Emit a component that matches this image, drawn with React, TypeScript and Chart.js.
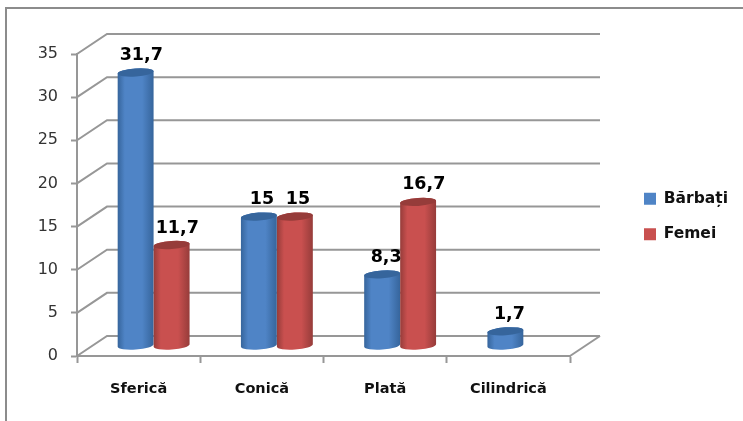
import { useEffect, useRef } from "react";
import { Chart, BarController, BarElement, registerables } from "chart.js";

Chart.register(...registerables);

const categories = ["Sferică", "Conică", "Plată", "Cilindrică"];
const barbati = [31.7, 15, 8.3, 1.7];
const femei = [11.7, 15, 16.7, null];
const seriesNames = ["Bărbați", "Femei"];
const yMax = 35;
const yStep = 5;

// Depth of the pseudo-3D floor: how far the back wall sits from the front axes.
const DEPTH_X = 30;
const DEPTH_Y = 20;
const ELLIPSE_RY = 4;
const ELLIPSE_TILT = -0.07;
const LINE = "#979797";
const FONT = "'DejaVu Sans'";

class CylinderBar extends BarElement {
  static id = "cylinderBar";
  draw(ctx: CanvasRenderingContext2D) {
    const { x, y, base, width } = (this as any).getProps(["x", "y", "base", "width"]);
    if (!Number.isFinite(y)) return;
    const opts = (this as any).options;
    // Columns stand halfway back on the floor.
    const cx = x + DEPTH_X / 2;
    const top = y - DEPTH_Y / 2;
    const bottom = base - DEPTH_Y / 2;
    const rx = width / 2;
    const grad = ctx.createLinearGradient(cx - rx, 0, cx + rx, 0);
    grad.addColorStop(0, opts.borderColor);
    grad.addColorStop(0.2, opts.backgroundColor);
    grad.addColorStop(0.68, opts.backgroundColor);
    grad.addColorStop(1, opts.borderColor);
    ctx.save();
    ctx.fillStyle = grad;
    ctx.beginPath();
    ctx.ellipse(cx, top, rx, ELLIPSE_RY, ELLIPSE_TILT, Math.PI, 0, false);
    ctx.ellipse(cx, bottom, rx, ELLIPSE_RY, ELLIPSE_TILT, 0, Math.PI, false);
    ctx.closePath();
    ctx.fill();
    ctx.fillStyle = opts.borderColor;
    ctx.beginPath();
    ctx.ellipse(cx, top, rx, ELLIPSE_RY, ELLIPSE_TILT, 0, Math.PI * 2);
    ctx.fill();
    ctx.restore();
  }
}

class CylinderController extends BarController {
  static id = "cylinder";
  static defaults = { ...(BarController as any).defaults, dataElementType: "cylinderBar" };
  static overrides = (BarController as any).overrides;
}

Chart.register(CylinderBar as any, CylinderController as any);

const scene = {
  id: "scene",
  beforeLayout(chart: any) {
    // The legend column has a fixed width so the plot keeps its right edge.
    const legend = chart.legend;
    if (legend && !legend.__fixed) {
      const fit = legend.fit.bind(legend);
      legend.fit = () => {
        fit();
        legend.width = 173;
      };
      legend.__fixed = true;
    }
  },
  afterLayout(chart: any) {
    const legend = chart.legend;
    const pad = legend.options.labels.padding;
    legend.left = 644 - pad;
    legend.right = 743;
    legend.top = 191 - pad;
    legend.adjustHitBoxes();
  },
  beforeDraw(chart: any) {
    const { ctx } = chart;
    ctx.save();
    ctx.strokeStyle = "#8c8c8c";
    ctx.lineWidth = 2;
    ctx.beginPath();
    ctx.moveTo(6, 421);
    ctx.lineTo(6, 8);
    ctx.lineTo(743, 8);
    ctx.stroke();
    ctx.restore();
  },
  beforeDatasetsDraw(chart: any) {
    const { ctx, chartArea, scales } = chart;
    const { left, right } = chartArea;
    // Back wall and side wall gridlines, one for each y tick.
    ctx.save();
    ctx.strokeStyle = LINE;
    ctx.lineWidth = 2;
    scales.y.ticks.forEach((t: any) => {
      const py = scales.y.getPixelForValue(t.value);
      ctx.beginPath();
      ctx.moveTo(left, py);
      ctx.lineTo(left + DEPTH_X, py - DEPTH_Y);
      ctx.lineTo(right + DEPTH_X, py - DEPTH_Y);
      ctx.stroke();
    });
    const floor = scales.y.getPixelForValue(0);
    ctx.beginPath();
    ctx.moveTo(right, floor);
    ctx.lineTo(right + DEPTH_X, floor - DEPTH_Y);
    ctx.stroke();
    ctx.restore();

    // First series first, so the second one overlaps it.
    const metas = chart.getSortedVisibleDatasetMetas();
    metas.forEach((m: any) => m.controller.draw());

    ctx.save();
    ctx.fillStyle = "#000";
    ctx.font = `bold 17.5px ${FONT}`;
    ctx.textAlign = "center";
    ctx.textBaseline = "middle";
    metas.forEach((m: any) => {
      m.data.forEach((el: any, i: number) => {
        const v = chart.data.datasets[m.index].data[i];
        if (v === null) return;
        const text = String(v).replace(".", ",");
        const w = ctx.measureText(text).width;
        ctx.fillText(text, el.x + DEPTH_X / 2 + w * 0.13, el.y - DEPTH_Y / 2 - 17);
      });
    });
    ctx.restore();
    return false;
  },
};

export default function App() {
  const ref = useRef<HTMLCanvasElement>(null);
  useEffect(() => {
    const chart = new Chart(ref.current!, {
      type: "cylinder" as any,
      data: {
        labels: categories,
        datasets: [
          { label: seriesNames[0], data: barbati, backgroundColor: "#4f84c6", borderColor: "#36659c", borderWidth: 0 },
          { label: seriesNames[1], data: femei, backgroundColor: "#c9504f", borderColor: "#963c3a", borderWidth: 0 },
        ],
      },
      options: {
        animation: false,
        responsive: false,
        layout: { padding: { top: 54, left: 0, right: 0, bottom: 0 } },
        datasets: { cylinder: { categoryPercentage: 0.584, barPercentage: 1 } } as any,
        scales: {
          x: {
            type: "category",
            offset: true,
            afterFit: (s: any) => { s.height = 65; },
            border: { color: LINE, width: 2 },
            grid: { offset: true, drawOnChartArea: false, drawTicks: true, tickLength: 7, tickWidth: 2, tickColor: LINE },
            ticks: { color: "#111", padding: 18, maxRotation: 0, font: { family: FONT, weight: "bold", size: 14.5 } },
          },
          y: {
            min: 0,
            max: yMax,
            afterFit: (s: any) => { s.width = 77; },
            border: { color: LINE, width: 2 },
            grid: { drawOnChartArea: false, drawTicks: true, tickLength: 6, tickWidth: 2, tickColor: LINE },
            ticks: { stepSize: yStep, color: "#333", padding: 13, font: { family: FONT, size: 16 } },
          },
        },
        plugins: {
          title: { display: false },
          tooltip: { enabled: false },
          legend: {
            display: true,
            position: "right",
            align: "start",
            labels: {
              boxWidth: 12,
              boxHeight: 12,
              padding: 20,
              color: "#111",
              font: { family: FONT, weight: "bold", size: 15.5 },
            },
          },
        },
      } as any,
      plugins: [scene as any],
    });
    return () => chart.destroy();
  }, []);
  return (
    <div style={{ position: "fixed", left: 0, top: 0, width: 743, height: 421, background: "#fff" }}>
      <canvas ref={ref} width={743} height={421} style={{ display: "block" }} />
    </div>
  );
}
